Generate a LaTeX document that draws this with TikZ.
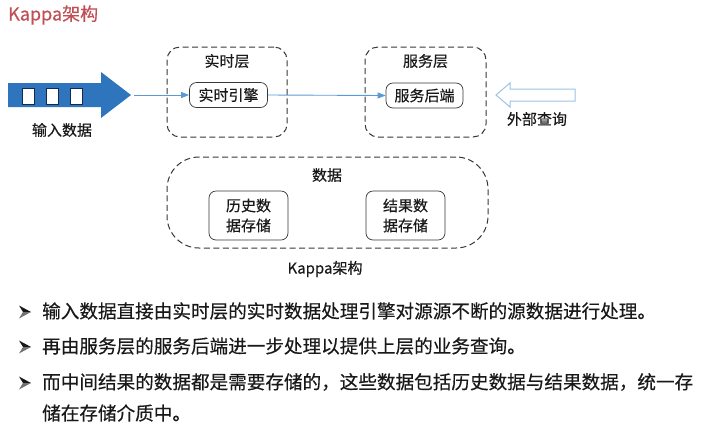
\documentclass[tikz,border=0pt]{standalone}
\usepackage{fontspec}
\setmainfont{Noto Sans CJK SC}[FakeBold=0.35]
\usetikzlibrary{arrows.meta}
\definecolor{titlered}{RGB}{192,80,85}
\definecolor{arrowblue}{RGB}{46,117,190}
\definecolor{lineblue}{RGB}{91,155,213}
\definecolor{hollowblue}{RGB}{157,195,230}
\definecolor{boxgray}{RGB}{55,55,55}
\definecolor{txt}{RGB}{25,25,25}
\begin{document}
\begin{tikzpicture}[x=1pt,y=-1pt,
  lbl/.style={font=\fontsize{15}{19}\selectfont, text=txt, inner sep=0pt},
  layer/.style={draw=boxgray, dash pattern=on 6pt off 3.5pt, rounded corners=13pt, line width=1pt},
  engine/.style={draw=boxgray, rounded corners=7pt, line width=0.7pt, inner sep=1pt, font=\fontsize{15}{20}\selectfont, text=txt, align=center},
  flow/.style={draw=lineblue, line width=0.9pt, -{Triangle[length=8pt,width=6pt]}},
  btext/.style={font=\fontsize{18.6}{22}\selectfont, text=txt, anchor=west, inner sep=0pt},
  dartbullet/.pic={
    \fill[black!90] (6,0) -- (-6,-6.5) -- (-2,0) -- cycle;
    \fill[black!55] (6,0) -- (-6,6.5) -- (-2,0) -- cycle;
  }
]
\useasboundingbox (0,0) rectangle (727,432);
% title
\node[font=\fontsize{18}{21}\selectfont, text=titlered, anchor=west, inner sep=0pt] (title) at (8,15) {Kappa架构};
% input arrow
\fill[arrowblue] (8,83) -- (101,83) -- (101,72) -- (131,95) -- (101,118) -- (101,107) -- (8,107) -- cycle;
\foreach \xx in {22,46,70}{
  \draw[fill=white, draw={rgb,255:red,20;green,40;blue,80}, line width=0.8pt] (\xx,88) rectangle ++(12,16);
}
\coordinate (intip) at (134,95);
\node[lbl] (inlbl) at (62,130) {输入数据};
% layers
\node[layer, minimum width=120pt, minimum height=90pt] (rtl) at (227,92) {};
\node[lbl] (rtlt) at (227,61) {实时层};
\node[layer, minimum width=121pt, minimum height=90pt] (svl) at (425.5,92) {};
\node[lbl] (svlt) at (425.5,61) {服务层};
\node[layer, rounded corners=32pt, minimum width=321pt, minimum height=91pt] (dat) at (327.5,202.5) {};
\node[lbl] (datt) at (327,175) {数据};
% engines
\node[engine, minimum width=78pt, minimum height=25pt] (eng) at (228.5,95) {实时引擎};
\node[engine, minimum width=77pt, minimum height=25pt] (svc) at (424.5,95.5) {服务后端};
\node[engine, minimum width=79pt, minimum height=49pt] (his) at (248.5,215.5) {历史数\\据存储};
\node[engine, minimum width=79pt, minimum height=49pt] (res) at (405.5,215.5) {结果数\\据存储};
% connectors
\draw[flow] (intip) -- (eng.west);
\draw[flow] (eng.east) -- (svc.west);
% hollow arrow
\draw[hollowblue, line width=1pt, fill=white] (496,95) -- (510,83) -- (510,89) -- (575,89) -- (575,101) -- (510,101) -- (510,107) -- cycle;
\node[lbl] (qlbl) at (537,119) {外部查询};
% caption
\node[lbl] (cap) at (325,269) {Kappa架构};
% bullets
\pic at (25,312) {dartbullet};
\node[btext] (t1) at (42,311) {输入数据直接由实时层的实时数据处理引擎对源源不断的源数据进行处理。};
\pic at (25,347) {dartbullet};
\node[btext] (t2) at (42,346) {再由服务层的服务后端进一步处理以提供上层的业务查询。};
\pic at (25,383) {dartbullet};
\node[btext] (t3) at (42,382) {而中间结果的数据都是需要存储的，这些数据包括历史数据与结果数据，统一存};
\node[btext] (t4) at (42,413) {储在存储介质中。};
\end{tikzpicture}
\end{document}
